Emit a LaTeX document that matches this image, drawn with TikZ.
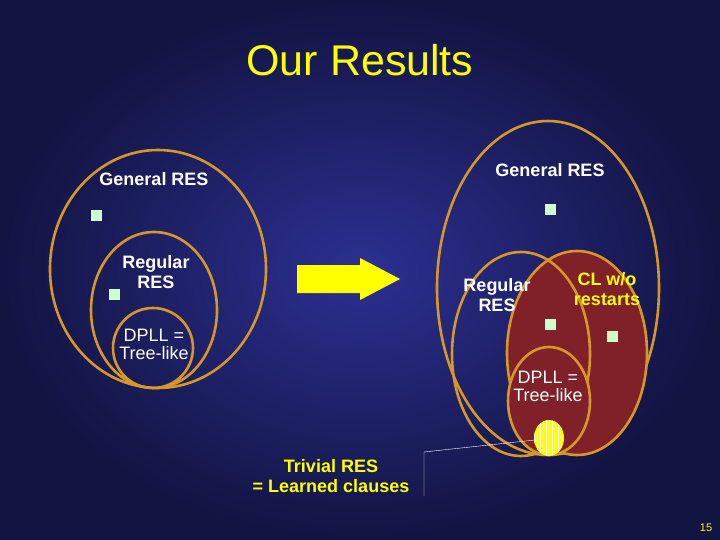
\documentclass[tikz,border=0pt]{standalone}
\usepackage{fontspec}
\setmainfont{Liberation Sans}
\usetikzlibrary{patterns}
\definecolor{slidebg}{RGB}{18,20,66}
\definecolor{slidemid}{RGB}{44,48,146}
\definecolor{ringcol}{RGB}{214,150,40}
\definecolor{setfill}{RGB}{128,32,40}
\definecolor{dotcol}{RGB}{204,255,204}
\definecolor{titlecol}{RGB}{255,255,0}
\tikzset{
  ring/.style={draw=ringcol, line width=2.6pt},
  setlabel/.style={text=white, font=\bfseries\fontsize{18}{20}\selectfont, align=center},
  plainlabel/.style={text=white, font=\fontsize{18}{20}\selectfont, align=center},
  dot/.style={fill=dotcol, minimum size=11pt, inner sep=0pt}
}
\begin{document}
\begin{tikzpicture}[x=1pt,y=-1pt]
\useasboundingbox (0,0) rectangle (720,540);
\shade[inner color=slidemid, outer color=slidebg] (0,0) rectangle (720,540);
\node[text=titlecol, font=\fontsize{43}{46}\selectfont] (title) at (360,60) {Our Results};

% left picture
\draw[ring] (158,269) ellipse (108 and 119);
\draw[ring] (154,310) ellipse (63 and 78);
\draw[ring] (153,348) ellipse (40 and 40);
\node[setlabel] (lgen) at (154,179) {General RES};
\node[setlabel] (lreg) at (156,272) {Regular\\RES};
\node[plainlabel] (ldpll) at (154,344) {DPLL =\\[-2pt]Tree-like};
\node[dot] (ld1) at (96,216) {};
\node[dot] (ld2) at (114,294) {};

% arrow
\fill[titlecol] (297,265) -- (360,265) -- (360,258) -- (400,279) -- (360,300)
  -- (360,293) -- (297,293) -- cycle;

% right picture
\draw[ring] (548,288) ellipse (111 and 167);
\draw[ring] (521,354) ellipse (69 and 102);
\fill[setfill] (577,353) ellipse (70 and 102);
\draw[ring] (577,353) ellipse (70 and 102);
\begin{scope}
\clip (577,353) ellipse (70 and 102);
\draw[ring] (521,354) ellipse (69 and 102);
\end{scope}
\draw[ring, fill=setfill] (549,401) ellipse (41 and 54);
\fill[titlecol] (549,438) ellipse (15 and 18);
\fill[pattern=vertical lines, pattern color=white] (549,438) ellipse (15 and 18);
\node[setlabel] (rgen) at (550,170) {General RES};
\node[setlabel] (rreg) at (497,295) {Regular\\RES};
\node[setlabel, text=titlecol] (rcl) at (607,289) {CL w/o\\restarts};
\node[plainlabel] (rdpll) at (548,386) {DPLL =\\[-2pt]Tree-like};
\node[dot] (rd1) at (550,210) {};
\node[dot] (rd2) at (550,324) {};
\node[dot] (rd3) at (612,336) {};

% callout
\node[text=titlecol, font=\bfseries\fontsize{18}{20}\selectfont, align=center] (triv) at (331,476) {Trivial RES\\= Learned clauses};
\coordinate (ctop) at (424,452);
\coordinate (cbot) at (424,496);
\draw[white, thin] (cbot) -- (ctop) -- (535,440);
\node[text=titlecol, font=\fontsize{11}{12}\selectfont] (pg) at (706,528) {15};
\end{tikzpicture}
\end{document}
